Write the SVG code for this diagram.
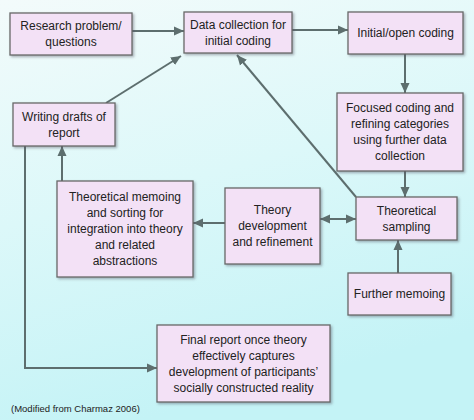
<svg xmlns="http://www.w3.org/2000/svg" width="474" height="420" viewBox="0 0 474 420">
<defs>
<linearGradient id="bg" x1="0" y1="0" x2="0.3" y2="1">
<stop offset="0" stop-color="#f3fbfb"/>
<stop offset="0.5" stop-color="#dcf8f9"/>
<stop offset="1" stop-color="#c4f3f6"/>
</linearGradient>
<filter id="sh" x="-10%" y="-10%" width="130%" height="130%">
<feDropShadow dx="1.5" dy="1.5" stdDeviation="1" flood-color="#556" flood-opacity="0.45"/>
</filter>
<marker id="ah" viewBox="0 0 10 10" refX="10" refY="5" markerWidth="10" markerHeight="10" markerUnits="userSpaceOnUse" orient="auto-start-reverse">
<path d="M0,0.5 L10,5 L0,9.5 Z" fill="#5d6e6e"/>
</marker>
<style>
.box{fill:#f3e1f6;stroke:#686868;stroke-width:1.3;filter:url(#sh)}
text{font-family:"Liberation Sans",Arial,sans-serif;font-size:12px;fill:#222;text-anchor:middle}
.cap{font-size:9.5px;text-anchor:start}
.c{stroke:#5d6e6e;stroke-width:2;fill:none}
</style>
</defs>
<rect width="474" height="420" fill="url(#bg)"/>
<g id="connectors">
<line class="c" x1="132" y1="31" x2="184" y2="31" marker-end="url(#ah)"/>
<line class="c" x1="106" y1="103" x2="181" y2="56" marker-end="url(#ah)"/>
<line class="c" x1="292" y1="30" x2="348" y2="30" marker-end="url(#ah)"/>
<line class="c" x1="405" y1="54" x2="405" y2="93" marker-end="url(#ah)"/>
<line class="c" x1="405" y1="171" x2="405" y2="197" marker-end="url(#ah)"/>
<line class="c" x1="356" y1="197" x2="237" y2="55" marker-end="url(#ah)"/>
<line class="c" x1="320" y1="219" x2="356" y2="219" marker-start="url(#ah)" marker-end="url(#ah)"/>
<line class="c" x1="225" y1="223" x2="193" y2="223" marker-end="url(#ah)"/>
<line class="c" x1="398" y1="273" x2="398" y2="240" marker-end="url(#ah)"/>
<line class="c" x1="62" y1="181" x2="62" y2="146" marker-end="url(#ah)"/>
<polyline class="c" points="25,146 25,368 157,368" marker-end="url(#ah)"/>
</g>
<g id="research">
<rect class="box" x="10" y="13" width="122" height="42"/>
<text x="71" y="30">Research problem/</text>
<text x="71" y="46">questions</text>
</g>
<g id="datacollection">
<rect class="box" x="184" y="12" width="108" height="41"/>
<text x="238" y="28.5">Data collection for</text>
<text x="238" y="44.5">initial coding</text>
</g>
<g id="initialcoding">
<rect class="box" x="348" y="12" width="115" height="42"/>
<text x="405.5" y="37">Initial/open coding</text>
</g>
<g id="focused">
<rect class="box" x="337" y="93" width="126" height="78"/>
<text x="400" y="112">Focused coding and</text>
<text x="400" y="128">refining categories</text>
<text x="400" y="144">using further data</text>
<text x="400" y="160">collection</text>
</g>
<g id="sampling">
<rect class="box" x="356" y="197" width="101" height="43"/>
<text x="406.5" y="215">Theoretical</text>
<text x="406.5" y="231">sampling</text>
</g>
<g id="theorydev">
<rect class="box" x="225" y="188" width="95" height="76"/>
<text x="272.5" y="214">Theory</text>
<text x="272.5" y="230">development</text>
<text x="272.5" y="246">and refinement</text>
</g>
<g id="memoing">
<rect class="box" x="57" y="181" width="136" height="96"/>
<text x="125" y="201">Theoretical memoing</text>
<text x="125" y="217">and sorting for</text>
<text x="125" y="233">integration into theory</text>
<text x="125" y="249">and related</text>
<text x="125" y="265">abstractions</text>
</g>
<g id="drafts">
<rect class="box" x="13" y="103" width="102" height="43"/>
<text x="64" y="121">Writing drafts of</text>
<text x="64" y="137">report</text>
</g>
<g id="furthermemoing">
<rect class="box" x="348" y="273" width="103" height="42"/>
<text x="399.5" y="298">Further memoing</text>
</g>
<g id="finalreport">
<rect class="box" x="157" y="325" width="173" height="77"/>
<text x="243.5" y="344">Final report once theory</text>
<text x="243.5" y="360">effectively captures</text>
<text x="243.5" y="376">development of participants’</text>
<text x="243.5" y="392">socially constructed reality</text>
</g>
<text class="cap" x="11" y="412">(Modified from Charmaz 2006)</text>
</svg>
